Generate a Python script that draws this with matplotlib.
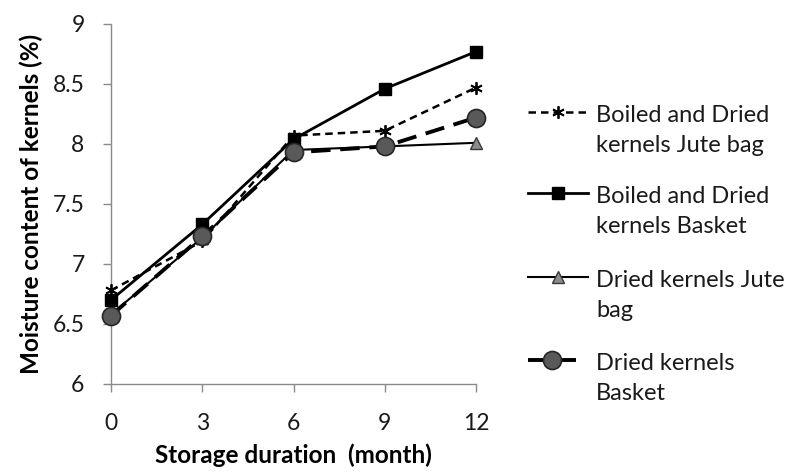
import numpy as np
import matplotlib.pyplot as plt
from matplotlib.lines import Line2D

plt.rcParams['font.family'] = ['Lato', 'DejaVu Sans']

# storage time (months) and moisture content (%) for each treatment
months = [0, 3, 6, 9, 12]
boiled_jute = [6.78, 7.19, 8.07, 8.11, 8.47]
boiled_basket = [6.70, 7.33, 8.04, 8.46, 8.77]
dried_jute = [6.58, 7.22, 7.95, 7.98, 8.01]
dried_basket = [6.57, 7.23, 7.93, 7.98, 8.22]

labels = ['Boiled and Dried\nkernels Jute bag',
          'Boiled and Dried\nkernels Basket',
          'Dried kernels Jute\nbag',
          'Dried kernels\nBasket']

styles = [
    dict(color='black', linestyle=(0, (3, 2)), linewidth=1.8, marker=(6, 2, 0),
         markersize=9, markeredgewidth=1.3, markeredgecolor='black'),
    dict(color='black', linestyle='-', linewidth=2.0, marker='s', markersize=8,
         markerfacecolor='black', markeredgecolor='black'),
    dict(color='black', linestyle='-', linewidth=1.5, marker='^', markersize=8,
         markerfacecolor='#8c8c8c', markeredgecolor='#3a3a3a', markeredgewidth=1.0),
    dict(color='black', linestyle=(0, (5, 2.5)), linewidth=2.8, marker='o',
         markersize=13, markerfacecolor='#595959', markeredgecolor='#262626',
         markeredgewidth=1.2),
]
orders = [3, 4, 2, 5]

W, H = 800, 474
fig = plt.figure(figsize=(W / 100, H / 100), dpi=100)
ax = fig.add_axes([111 / W, 1 - 384 / H, 365 / W, 360 / H])

for ys, st, z in zip([boiled_jute, boiled_basket, dried_jute, dried_basket], styles, orders):
    ax.plot(months, ys, zorder=z, clip_on=False, **st)

ax.set_xlim(0, 12)
ax.set_ylim(6, 9)
ax.set_xticks(months)
ax.set_yticks(np.arange(6, 9.01, 0.5))
ax.set_yticklabels(['6', '6.5', '7', '7.5', '8', '8.5', '9'])

for side in ['top', 'right']:
    ax.spines[side].set_visible(False)
for side in ['left', 'bottom']:
    ax.spines[side].set_color('#8a8a8a')
    ax.spines[side].set_linewidth(1.0)
ax.tick_params(axis='both', colors='#8a8a8a', labelcolor='#1a1a1a',
               labelsize=16.5, length=6, width=1.0, direction='out')
ax.tick_params(axis='x', pad=15)
ax.tick_params(axis='y', pad=13)

ax.set_xlabel('Storage duration  (month)', fontsize=17.5, fontweight='bold', labelpad=7)
ax.set_ylabel('Moisture content of kernels (%)', fontsize=17.5, fontweight='bold', labelpad=7)

# legend drawn by hand so the key sits beside the first line of each label
rows = [112, 193, 277, 360]
ends = [588, 588, 588, 576]
for lab, st, y, x1 in zip(labels, styles, rows, ends):
    yf = 1 - y / H
    key = dict(st)
    mk = {k: key.pop(k) for k in list(key) if k.startswith('marker')}
    fig.add_artist(Line2D([528 / W, x1 / W], [yf, yf], transform=fig.transFigure, **key))
    fig.add_artist(Line2D([(528 + x1) / 2 / W], [yf], transform=fig.transFigure,
                          linestyle='none', **mk))
    fig.text(596 / W, 1 - (y - 7) / H, lab, fontsize=17, va='top', ha='left',
             color='#1a1a1a', linespacing=1.55)

fig.savefig('out.png', dpi=100)
